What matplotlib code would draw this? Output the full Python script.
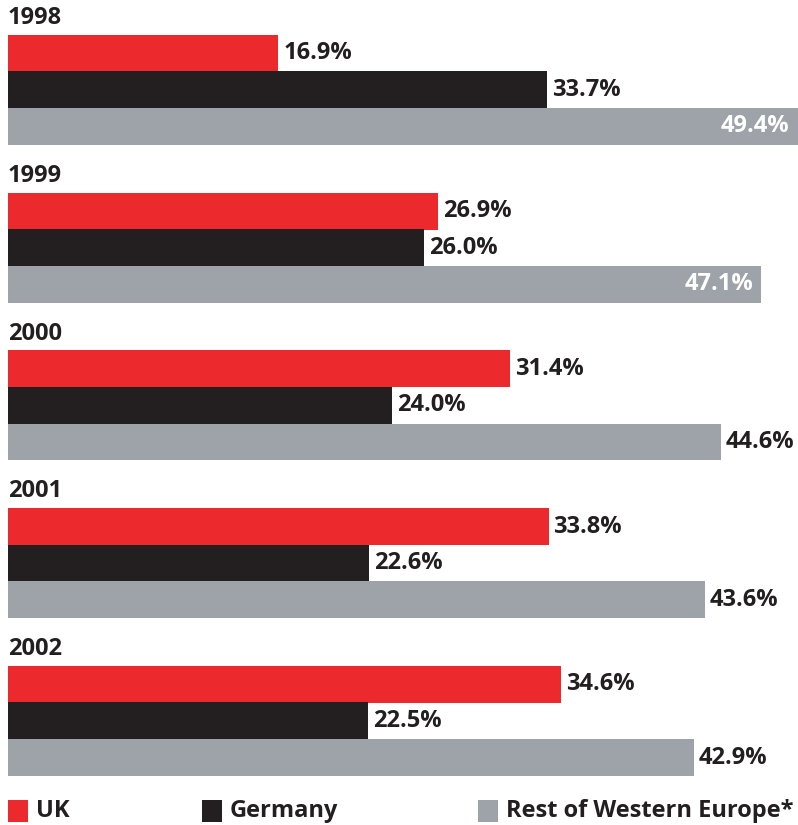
import matplotlib
matplotlib.use("Agg")
import matplotlib.pyplot as plt
from matplotlib.patches import Rectangle

years = ["1998", "1999", "2000", "2001", "2002"]
series = ["UK", "Germany", "Rest of Western Europe*"]
uk = [16.9, 26.9, 31.4, 33.8, 34.6]
germany = [33.7, 26.0, 24.0, 22.6, 22.5]
rest = [49.4, 47.1, 44.6, 43.6, 42.9]
colors = ["#EC2A2E", "#231F20", "#9DA3A9"]

W, H = 798, 825
fig = plt.figure(figsize=(W / 100, H / 100), dpi=100)
fig.patch.set_facecolor("white")

# Axes: x in percent, y in pixel rows from top
ax = fig.add_axes([8 / W, 0, 790 / W, 1])
ax.set_xlim(0, 49.4)
ax.set_ylim(H, 0)
ax.axis("off")

FONT = "Open Sans"
FS = 17
bar_h = 36.6
group_gap = 157.75
top0 = 35

for g, year in enumerate(years):
    top = top0 + g * group_gap
    ax.text(0, top - 17, year, fontfamily=FONT, fontweight="bold", fontsize=FS,
            color="#231F20", va="center", ha="left")
    for s, vals in enumerate([uk, germany, rest]):
        v = vals[g]
        yc = top + bar_h * s + bar_h / 2
        ax.barh(yc, v, height=bar_h + 0.3, left=0, color=colors[s], linewidth=0)
        label = f"{v:.1f}%"
        if v > 46:
            ax.annotate(label, (v, yc), xytext=(-6, 0), textcoords="offset points",
                        ha="right", va="center", fontfamily=FONT, fontweight="bold",
                        fontsize=FS, color="white")
        else:
            ax.annotate(label, (v, yc), xytext=(3.5, 0), textcoords="offset points",
                        ha="left", va="center", fontfamily=FONT, fontweight="bold",
                        fontsize=FS, color="#231F20")

# Legend row
leg_x = [8, 202, 478]
leg_y = 811
for s, name in enumerate(series):
    fig.patches.append(Rectangle((leg_x[s] / W, 1 - (leg_y + 11) / H), 20 / W, 22 / H,
                                 transform=fig.transFigure, color=colors[s], linewidth=0))
    fig.text((leg_x[s] + 28) / W, 1 - leg_y / H, name, fontfamily=FONT,
             fontweight="bold", fontsize=FS, color="#231F20", va="center", ha="left")

fig.savefig("out.png", dpi=100, facecolor="white")
